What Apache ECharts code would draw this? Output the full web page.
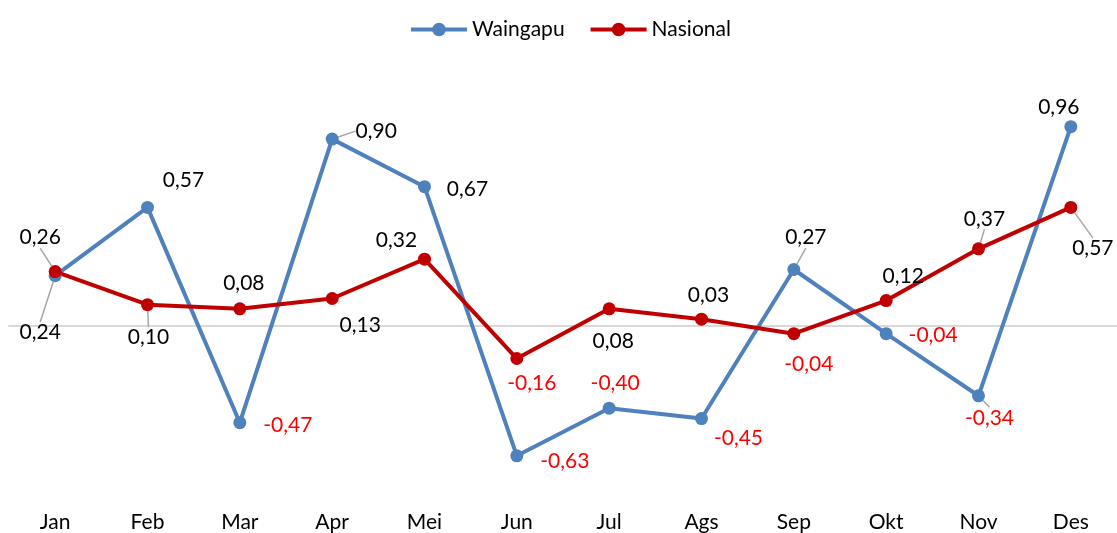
<!DOCTYPE html>
<html>
<head>
<meta charset="utf-8">
<script src="https://cdn.jsdelivr.net/npm/echarts@6/dist/echarts.min.js"></script>
<style>
  html, body { margin: 0; padding: 0; background: #fff; }
  #chart { width: 1117px; height: 533px; }
</style>
</head>
<body>
<div id="chart"></div>
<script>
(function () {

  // data
  var months = ['Jan', 'Feb', 'Mar', 'Apr', 'Mei', 'Jun', 'Jul', 'Ags', 'Sep', 'Okt', 'Nov', 'Des'];
  var waingapu = [0.24, 0.57, -0.47, 0.90, 0.67, -0.63, -0.40, -0.45, 0.27, -0.04, -0.34, 0.96];
  var nasional = [0.26, 0.10, 0.08, 0.13, 0.32, -0.16, 0.08, 0.03, -0.04, 0.12, 0.37, 0.57];

  // label placement (offset from the point) and leader lines
  var waingapuShift = [[-15, 57], [36, -27], [48, 3], [44, -8], [43, 3], [48, 5],
                       [6, -25], [37, 20], [12, -32], [47, 2], [11, 22], [-12, -19]];
  var waingapuLeader = [true, false, false, true, false, false, false, false, true, false, true, false];
  var nasionalShift = [[-15, -34], [1, 33], [4, -26], [28, 27], [-28, -19], [15, 25],
                       [4, 32], [7, -24], [15, 31], [17, -24], [6, -30], [22, 41]];
  var nasionalLeader = [true, true, false, false, false, false, false, false, false, false, true, true];

  var FONT = 'Lato';

  function buildData(values, leaders) {
    return values.map(function (v, i) {
      return {
        value: v,
        label: { color: v < 0 ? '#FF0000' : '#000000' },
        labelLine: { show: leaders[i] }
      };
    });
  }

  function fmt(p) {
    return p.value.toFixed(2).replace('.', ',');
  }

  function makeSeries(name, color, values, shift, leaders) {
    return {
      name: name,
      type: 'line',
      xAxisIndex: 0,
      data: buildData(values, leaders),
      symbol: 'circle',
      symbolSize: 13,
      lineStyle: { color: color, width: 4 },
      itemStyle: { color: color },
      label: {
        show: true,
        position: 'inside',
        formatter: fmt,
        fontFamily: FONT,
        fontSize: 21
      },
      labelLine: {
        show: false,
        lineStyle: { color: '#A6A6A6', width: 1.5 }
      },
      labelLayout: function (params) {
        var s = shift[params.dataIndex];
        return { dx: s[0], dy: s[1] };
      },
      emphasis: { disabled: true },
      animation: false
    };
  }

  var myChart = echarts.init(document.getElementById('chart'));
  var option = {
    backgroundColor: '#ffffff',
    textStyle: { fontFamily: FONT },
    legend: {
      left: 404,
      top: 14,
      itemWidth: 56,
      itemHeight: 17,
      itemGap: 24,
      lineStyle: { width: 4 },
      textStyle: { fontFamily: FONT, fontSize: 21, color: '#000' },
      data: ['Waingapu', 'Nasional']
    },
    grid: { left: 9, top: 77, right: 0, height: 414, containLabel: false },
    xAxis: [{
      type: 'category',
      data: months,
      position: 'bottom',
      axisLine: { show: false, onZero: false },
      axisTick: { show: false },
      axisLabel: { margin: 21, fontFamily: FONT, fontSize: 21, color: '#000' }
    }, {
      type: 'category',
      data: months,
      position: 'bottom',
      axisLine: { show: true, onZero: true, lineStyle: { color: '#D9D9D9', width: 2 } },
      axisTick: { show: false },
      axisLabel: { show: false }
    }],
    yAxis: {
      type: 'value',
      min: -0.8,
      max: 1.2,
      interval: 0.2,
      show: false,
      splitLine: { show: false }
    },
    series: [
      makeSeries('Waingapu', '#4F81BD', waingapu, waingapuShift, waingapuLeader),
      makeSeries('Nasional', '#C00000', nasional, nasionalShift, nasionalLeader)
    ]
  };

  myChart.setOption(option);
}());
</script>
</body>
</html>
